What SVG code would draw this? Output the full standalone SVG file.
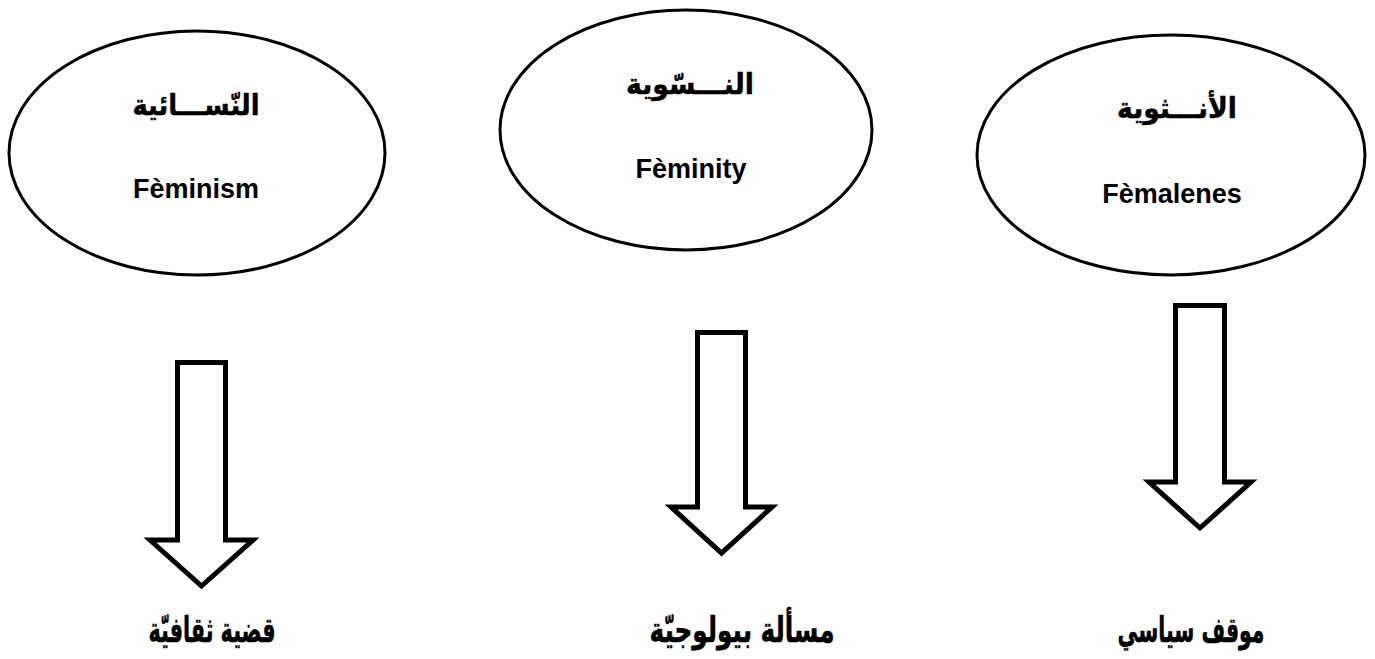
<svg xmlns="http://www.w3.org/2000/svg" width="1375" height="659" viewBox="0 0 1375 659">
<style>
.ell{fill:#fff;stroke:#000;stroke-width:3}
.arr{fill:#fff;stroke:#000;stroke-width:5;stroke-linejoin:miter}
.lat{font-family:"Liberation Sans",Arial,sans-serif;font-weight:bold;font-size:27px;text-anchor:middle;fill:#000}
.ar{font-family:"DejaVu Sans","Liberation Sans",sans-serif;font-weight:bold;font-size:29px;text-anchor:middle;fill:#000;stroke:#000;stroke-width:0.5}
.arb{font-family:"DejaVu Sans","Liberation Sans",sans-serif;font-weight:bold;font-size:35px;text-anchor:middle;fill:#000;stroke:#000;stroke-width:0.6}
</style>
<rect width="1375" height="659" fill="#fff"/>
<g id="node-feminism">
<ellipse class="ell" cx="197" cy="153" rx="188" ry="122"/>
<text class="ar" x="196" y="115" direction="rtl" textLength="127" lengthAdjust="spacingAndGlyphs">النّســـائية</text>
<text class="lat" x="196" y="198">Fèminism</text>
</g>
<g id="node-feminity">
<ellipse class="ell" cx="686" cy="130" rx="186" ry="120"/>
<text class="ar" x="690" y="94" direction="rtl" textLength="128" lengthAdjust="spacingAndGlyphs">النـــسّوية</text>
<text class="lat" x="691" y="178">Fèminity</text>
</g>
<g id="node-femalenes">
<ellipse class="ell" cx="1171" cy="155" rx="194" ry="120"/>
<text class="ar" x="1177" y="118" direction="rtl" textLength="120" lengthAdjust="spacingAndGlyphs">الأنـــثوية</text>
<text class="lat" x="1172" y="203">Fèmalenes</text>
</g>
<g id="connectors">
<path class="arr" d="M177.5,362.5 H225.5 V540 H253 L201.5,586 L150,540 H177.5 Z"/>
<path class="arr" d="M697.5,332.5 H745.5 V507 H772 L721.5,553 L671,507 H697.5 Z"/>
<path class="arr" d="M1175.5,305.5 H1224.5 V482 H1251 L1200,528 L1149,482 H1175.5 Z"/>
</g>
<g id="node-cultural">
<text class="arb" x="212" y="642" direction="rtl" textLength="127" lengthAdjust="spacingAndGlyphs">قضية ثقافيّة</text>
</g>
<g id="node-biological">
<text class="arb" x="742" y="642" direction="rtl" textLength="185" lengthAdjust="spacingAndGlyphs">مسألة بيولوجيّة</text>
</g>
<g id="node-political">
<text class="arb" x="1191" y="642" direction="rtl" textLength="147" lengthAdjust="spacingAndGlyphs">موقف سياسي</text>
</g>
</svg>
